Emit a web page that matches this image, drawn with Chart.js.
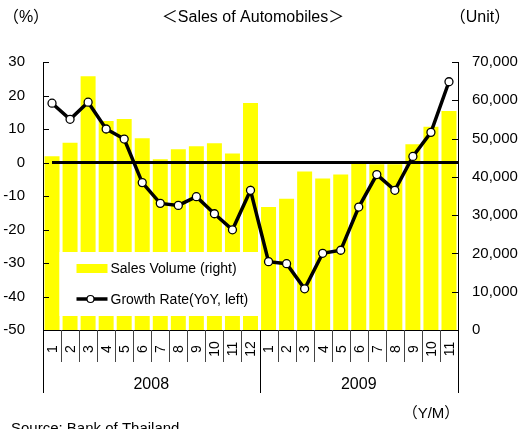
<!DOCTYPE html>
<html>
<head>
<meta charset="utf-8">
<script src="https://cdn.jsdelivr.net/npm/chart.js@4.4.1/dist/chart.umd.min.js"></script>
<style>
    html, body { margin: 0; padding: 0; background: #fff; }
    #wrap { width: 520px; height: 429px; }
</style>
</head>
<body>
<div id="wrap"><canvas id="grafica" width="520" height="429"></canvas></div>
<script>
// --- DATOS ---
const meses = ['1','2','3','4','5','6','7','8','9','10','11','12','1','2','3','4','5','6','7','8','9','10','11'];
const anios = ['2008', '2009'];
const mesesPorAnio = [12, 11];
// Ventas (unidades, eje derecho)
const ventas = [45400, 48900, 66300, 54600, 55100, 50100, 44600, 47200, 48000, 48800, 46100, 59300,
                32100, 34300, 41400, 39600, 40600, 43400, 43300, 43300, 48500, 53100, 57200];
// Crecimiento interanual (%, eje izquierdo)
const crecimiento = [17.7, 12.9, 18.0, 10.0, 7.0, -6.0, -12.2, -12.8, -10.2, -15.3, -20.1, -8.3,
                     -29.6, -30.2, -37.7, -27.1, -26.2, -13.3, -3.6, -8.3, 1.8, 9.0, 24.1];

const FUENTE = '"Liberation Sans", "Noto Sans CJK JP", sans-serif';
const AMARILLO = '#ffff00';

// --- PLUGIN: ejes, leyenda y textos a mano ---
const decoracion = {
    id: 'decoracion',
    afterDatasetDraw(chart, args) {
        if (args.meta.type !== 'bar') return;
        const ctx = chart.ctx;
        const area = chart.chartArea;
        const x = chart.scales.x;
        const yIzq = chart.scales.yIzq;

        // linea del cero
        const y0 = yIzq.getPixelForValue(0);
        ctx.save();
        ctx.strokeStyle = '#000';
        ctx.lineWidth = 3;
        ctx.beginPath();
        ctx.moveTo(x.getPixelForValue(0), y0);
        ctx.lineTo(area.right, y0);
        ctx.stroke();

        // caja de leyenda (tapa las barras)
        const lx = area.left + 16.5, ly = area.top + 190;
        ctx.fillStyle = '#fff';
        ctx.fillRect(lx, ly, 200, 64);
        ctx.fillStyle = AMARILLO;
        ctx.fillRect(lx + 17, ly + 12, 31, 9);
        ctx.strokeStyle = '#000';
        ctx.lineWidth = 3.5;
        ctx.beginPath();
        ctx.moveTo(lx + 17, ly + 47);
        ctx.lineTo(lx + 48, ly + 47);
        ctx.stroke();
        ctx.beginPath();
        ctx.arc(lx + 31, ly + 47, 3.5, 0, Math.PI * 2);
        ctx.fillStyle = '#fff';
        ctx.fill();
        ctx.lineWidth = 1.2;
        ctx.stroke();
        ctx.fillStyle = '#000';
        ctx.font = '14px ' + FUENTE;
        ctx.textAlign = 'left';
        ctx.textBaseline = 'middle';
        ctx.fillText('Sales Volume (right)', lx + 51, ly + 17);
        ctx.fillText('Growth Rate(YoY, left)', lx + 51, ly + 48);
        ctx.restore();
    },
    afterDraw(chart) {
        const ctx = chart.ctx;
        const area = chart.chartArea;
        const yIzq = chart.scales.yIzq;
        const yDer = chart.scales.yDer;
        const x = chart.scales.x;
        ctx.save();
        ctx.strokeStyle = '#000';
        ctx.lineWidth = 1;

        // marcas hacia adentro
        yIzq.ticks.forEach(t => {
            const py = Math.round(yIzq.getPixelForValue(t.value)) + 0.5;
            ctx.beginPath(); ctx.moveTo(area.left, py); ctx.lineTo(area.left + 6, py); ctx.stroke();
        });
        yDer.ticks.forEach(t => {
            const py = Math.round(yDer.getPixelForValue(t.value)) + 0.5;
            ctx.beginPath(); ctx.moveTo(area.right - 6, py); ctx.lineTo(area.right, py); ctx.stroke();
        });

        // separadores de meses y anios
        const ancho = (area.right - area.left) / meses.length;
        const cortes = [0];
        mesesPorAnio.forEach(n => cortes.push(cortes[cortes.length - 1] + n));
        for (let k = 0; k <= meses.length; k++) {
            const px = Math.round(area.left + k * ancho) + 0.5;
            const largo = cortes.includes(k) ? 63 : 32;
            ctx.strokeStyle = cortes.includes(k) ? '#000' : '#444';
            ctx.beginPath(); ctx.moveTo(px, area.bottom); ctx.lineTo(px, area.bottom + largo); ctx.stroke();
        }

        // etiquetas de meses (rotadas)
        ctx.fillStyle = '#000';
        ctx.font = '14px ' + FUENTE;
        ctx.textAlign = 'center';
        ctx.textBaseline = 'middle';
        meses.forEach((m, i) => {
            ctx.save();
            ctx.translate(x.getPixelForValue(i) + 1, area.bottom + 19);
            ctx.rotate(-Math.PI / 2);
            ctx.fillText(m, 0, 0);
            ctx.restore();
        });

        // etiquetas de anios
        ctx.font = '16px ' + FUENTE;
        anios.forEach((a, j) => {
            const cx = area.left + (cortes[j] + cortes[j + 1]) / 2 * ancho;
            ctx.fillText(a, cx, area.bottom + 55);
        });

        // titulos y notas
        ctx.font = '16px ' + FUENTE;
        ctx.fillText('＜Sales of Automobiles＞', 253, 18);
        ctx.fillText('（%）', 26, 18);
        ctx.fillText('（Unit）', 480, 18);
        ctx.font = '15px ' + FUENTE;
        ctx.fillText('（Y/M）', 431, 414);
        ctx.textAlign = 'left';
        ctx.textBaseline = 'alphabetic';
        ctx.fillText('Source: Bank of Thailand', 11, 433);
        ctx.restore();
    }
};

function inicializarGrafica() {
    const ctx = document.getElementById('grafica').getContext('2d');
    new Chart(ctx, {
        data: {
            labels: meses,
            datasets: [
                {
                    type: 'line', label: 'Growth Rate(YoY, left)', data: crecimiento, yAxisID: 'yIzq',
                    borderColor: '#000', borderWidth: 3.5, tension: 0, order: 0,
                    pointRadius: 4, pointBackgroundColor: '#fff', pointBorderColor: '#000', pointBorderWidth: 1.3
                },
                {
                    type: 'bar', label: 'Sales Volume (right)', data: ventas, yAxisID: 'yDer',
                    backgroundColor: AMARILLO, borderWidth: 0, order: 1,
                    barPercentage: 0.83, categoryPercentage: 1
                }
            ]
        },
        options: {
            responsive: false,
            animation: false,
            layout: { autoPadding: false, padding: { top: 62, left: 0, right: 0, bottom: 0 } },
            plugins: { legend: { display: false }, tooltip: { enabled: false } },
            scales: {
                x: {
                    type: 'category', offset: true,
                    grid: { display: false, drawTicks: false },
                    border: { display: true, color: '#000', width: 1 },
                    ticks: { display: false },
                    afterFit: s => { s.height = 99; }
                },
                yIzq: {
                    position: 'left', min: -50, max: 30,
                    grid: { display: false, drawTicks: false },
                    border: { display: true, color: '#000', width: 1 },
                    ticks: { stepSize: 10, color: '#000', padding: 18, font: { size: 15, family: FUENTE } },
                    afterFit: s => { s.width = 43; }
                },
                yDer: {
                    position: 'right', min: 0, max: 70000,
                    grid: { display: false, drawTicks: false },
                    border: { display: true, color: '#000', width: 1 },
                    ticks: {
                        stepSize: 10000, color: '#000', padding: 14, font: { size: 15, family: FUENTE },
                        callback: v => v.toLocaleString('en-US')
                    },
                    afterFit: s => { s.width = 62; }
                }
            }
        },
        plugins: [decoracion]
    });
}

window.onload = inicializarGrafica;
</script>
</body>
</html>
